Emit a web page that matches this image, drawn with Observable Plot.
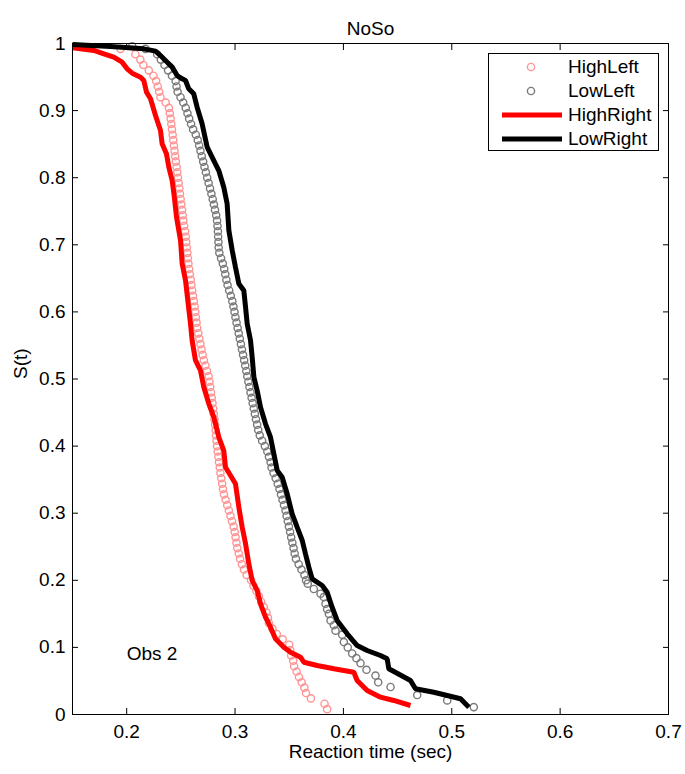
<!DOCTYPE html>
<html>
<head>
<meta charset="utf-8">
<script src="https://cdn.jsdelivr.net/npm/d3@7"></script>
<script src="https://cdn.jsdelivr.net/npm/@observablehq/plot@0.6"></script>
<style>
  body { margin: 0; background: #fff; }
  #wrap { position: relative; width: 685px; height: 774px; font-family: "Liberation Sans", Arial, sans-serif; }
  #legend { position: absolute; left: 488px; top: 53px; width: 169px; height: 96px; border: 1px solid #000; background: #fff; }
  .row { position: absolute; left: 0; width: 169px; height: 24px; }
  .row svg { position: absolute; left: 0; top: 0; }
  .row span { position: absolute; left: 79px; top: 0; line-height: 24px; font-size: 19px; color: #000; white-space: nowrap; }
</style>
</head>
<body>
<div id="wrap"></div>
<script>
// ---- data (reaction time in sec, survival S(t)) ----
const title = "NoSo";
const xLabel = "Reaction time (sec)";
const yLabel = "S(t)";
const xTicks = [0.2, 0.3, 0.4, 0.5, 0.6, 0.7];
const yTicks = [0, 0.1, 0.2, 0.3, 0.4, 0.5, 0.6, 0.7, 0.8, 0.9, 1];
const seriesNames = ["HighLeft", "LowLeft", "HighRight", "LowRight"];
const annotation = [{x: 0.2, y: 0.09, text: "Obs 2"}];

const highLeft = [[0.1943,0.992],[0.2080,0.984],[0.2126,0.976],[0.2154,0.968],[0.2204,0.960],[0.2247,0.952],[0.2272,0.944],[0.2287,0.936],[0.2300,0.928],[0.2312,0.920],[0.2360,0.912],[0.2390,0.904],[0.2398,0.896],[0.2406,0.888],[0.2412,0.880],[0.2418,0.872],[0.2424,0.864],[0.2430,0.856],[0.2436,0.848],[0.2442,0.840],[0.2448,0.832],[0.2454,0.824],[0.2461,0.816],[0.2467,0.808],[0.2473,0.800],[0.2480,0.792],[0.2486,0.784],[0.2492,0.776],[0.2498,0.768],[0.2505,0.760],[0.2511,0.752],[0.2517,0.744],[0.2523,0.736],[0.2530,0.728],[0.2539,0.720],[0.2545,0.712],[0.2550,0.704],[0.2555,0.696],[0.2560,0.688],[0.2565,0.680],[0.2570,0.672],[0.2576,0.664],[0.2583,0.656],[0.2591,0.648],[0.2598,0.640],[0.2605,0.632],[0.2612,0.624],[0.2620,0.616],[0.2627,0.608],[0.2633,0.600],[0.2639,0.592],[0.2645,0.584],[0.2651,0.576],[0.2661,0.568],[0.2671,0.560],[0.2681,0.552],[0.2691,0.544],[0.2701,0.536],[0.2712,0.528],[0.2727,0.520],[0.2741,0.512],[0.2756,0.504],[0.2764,0.496],[0.2771,0.488],[0.2778,0.480],[0.2785,0.472],[0.2792,0.464],[0.2798,0.456],[0.2804,0.448],[0.2810,0.440],[0.2816,0.432],[0.2821,0.424],[0.2825,0.416],[0.2829,0.408],[0.2834,0.400],[0.2840,0.392],[0.2846,0.384],[0.2852,0.376],[0.2859,0.368],[0.2865,0.360],[0.2873,0.352],[0.2881,0.344],[0.2889,0.336],[0.2898,0.328],[0.2913,0.320],[0.2928,0.312],[0.2943,0.304],[0.2958,0.296],[0.2972,0.288],[0.2987,0.280],[0.2997,0.272],[0.3005,0.264],[0.3013,0.256],[0.3021,0.248],[0.3034,0.240],[0.3046,0.232],[0.3063,0.224],[0.3082,0.216],[0.3107,0.208],[0.3148,0.200],[0.3170,0.192],[0.3197,0.184],[0.3220,0.176],[0.3241,0.168],[0.3265,0.160],[0.3290,0.152],[0.3304,0.144],[0.3313,0.136],[0.3345,0.128],[0.3385,0.120],[0.3440,0.112],[0.3500,0.104],[0.3510,0.096],[0.3518,0.088],[0.3537,0.080],[0.3545,0.072],[0.3568,0.064],[0.3590,0.056],[0.3615,0.048],[0.3640,0.040],[0.3655,0.032],[0.3700,0.024],[0.3826,0.016],[0.3850,0.008]];

const lowLeft = [[0.2051,0.996],[0.2174,0.992],[0.2281,0.984],[0.2315,0.976],[0.2349,0.968],[0.2382,0.960],[0.2418,0.952],[0.2452,0.944],[0.2460,0.936],[0.2470,0.928],[0.2497,0.920],[0.2522,0.912],[0.2545,0.904],[0.2561,0.896],[0.2577,0.888],[0.2594,0.880],[0.2613,0.872],[0.2638,0.864],[0.2656,0.856],[0.2669,0.848],[0.2681,0.840],[0.2693,0.832],[0.2706,0.824],[0.2718,0.816],[0.2731,0.808],[0.2743,0.800],[0.2756,0.792],[0.2769,0.784],[0.2782,0.776],[0.2794,0.768],[0.2805,0.760],[0.2815,0.752],[0.2826,0.744],[0.2834,0.736],[0.2838,0.728],[0.2842,0.720],[0.2844,0.712],[0.2847,0.704],[0.2849,0.696],[0.2855,0.688],[0.2871,0.680],[0.2887,0.672],[0.2900,0.664],[0.2910,0.656],[0.2920,0.648],[0.2931,0.640],[0.2946,0.632],[0.2961,0.624],[0.2975,0.616],[0.2985,0.608],[0.2995,0.600],[0.3004,0.592],[0.3014,0.584],[0.3024,0.576],[0.3034,0.568],[0.3044,0.560],[0.3054,0.552],[0.3064,0.544],[0.3074,0.536],[0.3084,0.528],[0.3094,0.520],[0.3104,0.512],[0.3113,0.504],[0.3123,0.496],[0.3133,0.488],[0.3143,0.480],[0.3153,0.472],[0.3163,0.464],[0.3173,0.456],[0.3183,0.448],[0.3193,0.440],[0.3204,0.432],[0.3214,0.424],[0.3228,0.416],[0.3250,0.408],[0.3275,0.400],[0.3298,0.392],[0.3313,0.384],[0.3328,0.376],[0.3337,0.368],[0.3355,0.360],[0.3375,0.352],[0.3394,0.344],[0.3410,0.336],[0.3424,0.328],[0.3438,0.320],[0.3452,0.312],[0.3466,0.304],[0.3476,0.296],[0.3487,0.288],[0.3497,0.280],[0.3508,0.272],[0.3518,0.264],[0.3529,0.256],[0.3540,0.248],[0.3550,0.240],[0.3562,0.232],[0.3587,0.224],[0.3613,0.216],[0.3640,0.208],[0.3655,0.200],[0.3671,0.195],[0.3727,0.187],[0.3789,0.180],[0.3819,0.175],[0.3835,0.165],[0.3850,0.157],[0.3866,0.150],[0.3881,0.140],[0.3912,0.133],[0.3927,0.125],[0.3989,0.119],[0.4004,0.108],[0.4040,0.100],[0.4081,0.091],[0.4120,0.084],[0.4158,0.0765],[0.4213,0.0666],[0.4296,0.058],[0.4321,0.048],[0.4435,0.041],[0.4681,0.029],[0.4958,0.021],[0.5203,0.011]];

const highRight = [[0.1500,0.9936],[0.1697,0.9896],[0.1789,0.9846],[0.1881,0.9796],[0.1958,0.9722],[0.2004,0.9622],[0.2051,0.9558],[0.2128,0.9498],[0.2158,0.9449],[0.2183,0.9275],[0.2220,0.9176],[0.2266,0.8927],[0.2312,0.8703],[0.2327,0.8505],[0.2367,0.8356],[0.2389,0.8157],[0.2420,0.7958],[0.2440,0.7710],[0.2460,0.7412],[0.2497,0.7064],[0.2512,0.6716],[0.2543,0.6468],[0.2564,0.6170],[0.2589,0.5823],[0.2604,0.5574],[0.2635,0.5276],[0.2681,0.5127],[0.2712,0.4878],[0.2758,0.4630],[0.2804,0.4431],[0.2850,0.4133],[0.2896,0.3934],[0.2912,0.3686],[0.2958,0.3562],[0.3004,0.3438],[0.3035,0.3090],[0.3066,0.2791],[0.3097,0.2544],[0.3127,0.2246],[0.3158,0.1997],[0.3204,0.1848],[0.3235,0.1650],[0.3281,0.1450],[0.3327,0.1301],[0.3373,0.1128],[0.3450,0.1003],[0.3512,0.0928],[0.3604,0.0854],[0.3635,0.0779],[0.3758,0.0730],[0.3912,0.0681],[0.4096,0.0630],[0.4127,0.0507],[0.4219,0.0358],[0.4342,0.0258],[0.4465,0.0209],[0.4619,0.0134]];

const lowRight = [[0.1500,0.9985],[0.1851,0.9955],[0.2158,0.9920],[0.2266,0.9886],[0.2312,0.9821],[0.2374,0.9722],[0.2420,0.9648],[0.2466,0.9523],[0.2512,0.9474],[0.2543,0.9449],[0.2573,0.9325],[0.2619,0.9250],[0.2650,0.9051],[0.2696,0.8803],[0.2743,0.8455],[0.2804,0.8256],[0.2850,0.8107],[0.2896,0.7858],[0.2927,0.7611],[0.2943,0.7213],[0.2974,0.6915],[0.3004,0.6666],[0.3035,0.6419],[0.3081,0.6319],[0.3097,0.6070],[0.3112,0.5823],[0.3143,0.5574],[0.3158,0.5325],[0.3174,0.5027],[0.3204,0.4829],[0.3235,0.4580],[0.3281,0.4332],[0.3327,0.4133],[0.3358,0.3885],[0.3389,0.3636],[0.3435,0.3537],[0.3481,0.3289],[0.3527,0.2991],[0.3573,0.2791],[0.3620,0.2593],[0.3650,0.2395],[0.3681,0.2195],[0.3712,0.2022],[0.3804,0.1923],[0.3850,0.1823],[0.3896,0.1599],[0.3942,0.1401],[0.4035,0.1203],[0.4127,0.1028],[0.4219,0.0954],[0.4342,0.0879],[0.4404,0.0830],[0.4419,0.0681],[0.4619,0.0507],[0.4665,0.0383],[0.4834,0.0332],[0.5081,0.0234],[0.5158,0.0109]];

const colors = {HighLeft: "#ff9494", LowLeft: "#7a7a7a", HighRight: "#ff0000", LowRight: "#000000"};

// ---- chart ----
const fontFamily = '"Liberation Sans", Arial, sans-serif';
const fmt = d3.format("~g");
const noText = () => "";

const chart = Plot.plot({
  width: 685,
  height: 774,
  marginLeft: 72,
  marginRight: 17,
  marginTop: 43,
  marginBottom: 60,
  style: {fontFamily, fontSize: "19px", color: "#000", background: "#fff", overflow: "visible"},
  x: {domain: [0.15, 0.7]},
  y: {domain: [0, 1]},
  marks: [
    Plot.axisX({anchor: "bottom", ticks: xTicks, tickSize: -6, tickFormat: noText, label: null}),
    Plot.axisX({anchor: "bottom", ticks: xTicks, tickSize: 0, tickPadding: 10, tickFormat: fmt, label: null}),
    Plot.axisX({anchor: "top", ticks: xTicks, tickSize: -6, tickFormat: noText, label: null}),
    Plot.axisY({anchor: "left", ticks: yTicks, tickSize: -6, tickFormat: noText, label: null}),
    Plot.axisY({anchor: "left", ticks: yTicks, tickSize: 0, tickPadding: 7, tickFormat: fmt, label: null}),
    Plot.axisY({anchor: "right", ticks: yTicks, tickSize: -6, tickFormat: noText, label: null}),
    Plot.dot(highLeft, {x: d => d[0], y: d => d[1], r: 3.6, stroke: colors.HighLeft, strokeWidth: 1.4}),
    Plot.dot(lowLeft, {x: d => d[0], y: d => d[1], r: 3.6, stroke: colors.LowLeft, strokeWidth: 1.4}),
    Plot.line(highRight, {x: d => d[0], y: d => d[1], stroke: colors.HighRight, strokeWidth: 5, strokeLinejoin: "miter", strokeLinecap: "butt"}),
    Plot.line(lowRight, {x: d => d[0], y: d => d[1], stroke: colors.LowRight, strokeWidth: 5, strokeLinejoin: "miter", strokeLinecap: "butt"}),
    Plot.frame({stroke: "#000", strokeWidth: 1}),
    Plot.text(annotation, {x: "x", y: "y", text: "text", textAnchor: "start", fontSize: 19, fill: "#000"}),
    Plot.text([title], {text: d => d, frameAnchor: "top", dy: -22, fontSize: 19, fill: "#000"}),
    Plot.text([xLabel], {text: d => d, frameAnchor: "bottom", dy: 43, fontSize: 19, fill: "#000"}),
    Plot.text([yLabel], {text: d => d, frameAnchor: "left", dx: -52, rotate: -90, fontSize: 19, fill: "#000"})
  ]
});

const wrap = document.getElementById("wrap");
wrap.appendChild(chart);

// ---- legend ----
const legend = document.createElement("div");
legend.id = "legend";
seriesNames.forEach((name, i) => {
  const row = document.createElement("div");
  row.className = "row";
  row.style.top = (1 + 24 * i) + "px";
  const isLine = name.endsWith("Right");
  const sw = isLine
    ? `<line x1="13" x2="73" y1="12" y2="12" stroke="${colors[name]}" stroke-width="5"/>`
    : `<circle cx="42" cy="12" r="3.6" fill="none" stroke="${colors[name]}" stroke-width="1.4"/>`;
  row.innerHTML = `<svg width="78" height="24">${sw}</svg><span>${name}</span>`;
  legend.appendChild(row);
});
wrap.appendChild(legend);
</script>
</body>
</html>
